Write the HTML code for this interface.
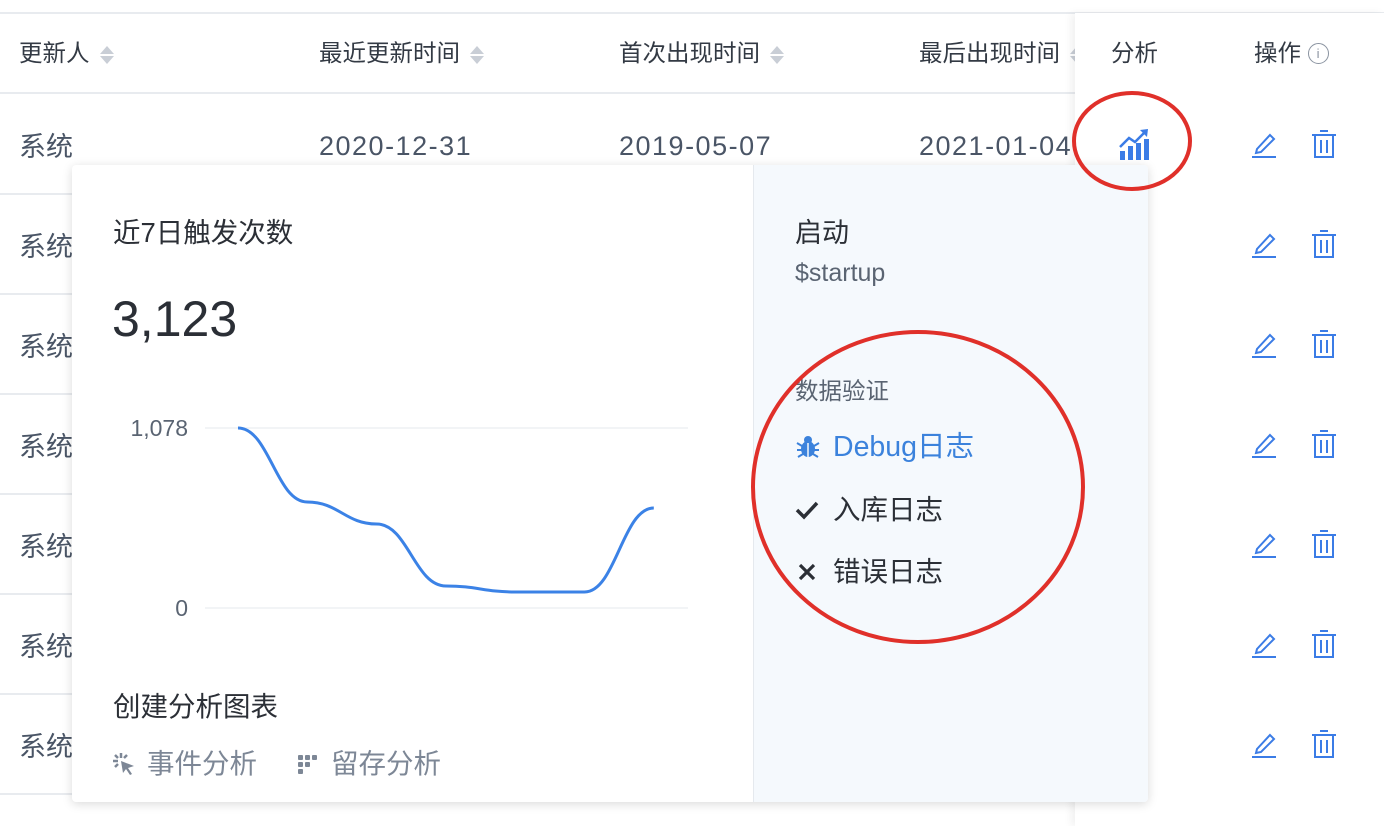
<!DOCTYPE html>
<html><head><meta charset="utf-8">
<style>
body{margin:0;width:1384px;height:826px;background:#fff;position:relative;overflow:hidden;font-family:"Liberation Sans","Noto Sans CJK SC",sans-serif;color:#4a5566}
.a{position:absolute;white-space:nowrap}
.hl{position:absolute;left:0;width:1384px;height:2px;background:#e8ebef}
.th{font-size:23.5px;color:#333a44;top:34px}
.sort{display:inline-block;vertical-align:middle;margin-left:10px;width:14px;height:22px;position:relative}
.sort:before{content:"";position:absolute;left:0;top:2px;border-left:7px solid transparent;border-right:7px solid transparent;border-bottom:8px solid #c9ced6}
.sort:after{content:"";position:absolute;left:0;top:12px;border-left:7px solid transparent;border-right:7px solid transparent;border-top:8px solid #c9ced6}
.td{font-size:27px;color:#4a5566}
.dt{font-size:27px;letter-spacing:1.5px}
</style></head><body>
<div class="hl" style="top:12px"></div>
<div class="hl" style="top:92px"></div>
<div class="a th" style="left:19px">更新人<span class="sort"></span></div>
<div class="a th" style="left:319px">最近更新时间<span class="sort"></span></div>
<div class="a th" style="left:619px">首次出现时间<span class="sort"></span></div>
<div class="a th" style="left:919px">最后出现时间<span class="sort"></span></div>
<div id="rows"></div>
<div class="a" style="left:1075px;top:13px;width:309px;height:813px;background:#fff;box-shadow:-4px 0 8px rgba(0,0,0,0.06)"></div>
<div class="a th" style="left:1111px">分析</div>
<div class="a th" style="left:1254px">操作 <span style="display:inline-block;width:19px;height:19px;border:1.5px solid #8a93a0;border-radius:50%;font-size:13px;text-align:center;line-height:19px;color:#8a93a0;vertical-align:3px">i</span></div>
<div id="rrows"></div>
<svg class="a" style="left:1118px;top:127px" width="32" height="34" viewBox="0 0 32 34"><g fill="#3b7ce6"><rect x="2" y="24" width="5" height="9"/><rect x="10" y="19" width="5" height="14"/><rect x="18" y="16" width="5" height="17"/><rect x="26" y="12" width="5" height="21"/></g><path d="M2 20 L11 11 L17 15 L27 5" stroke="#3b7ce6" stroke-width="2.5" fill="none"/><path d="M22 3 L30 2 L29 10 Z" fill="#3b7ce6"/></svg>
<div class="a" style="left:72px;top:165px;width:1076px;height:637px;background:#fff;border-radius:4px;box-shadow:0 2px 10px rgba(0,0,0,0.15);overflow:hidden">
  <div class="a" style="left:681px;top:0;width:395px;height:637px;background:#f5f9fd;border-left:1px solid #e5e9ee"></div>
</div>
<div class="a" style="left:113px;top:210px;font-size:27.5px;color:#2b2f36">近7日触发次数</div>
<div class="a" style="left:112px;top:290px;font-size:50px;color:#2b2f36">3,123</div>
<svg class="a" id="chart" style="left:100px;top:400px" width="600" height="230"></svg>
<div class="a" style="left:113px;top:684px;font-size:27.5px;color:#2b2f36">创建分析图表</div>
<div class="a" style="left:112px;top:741px;font-size:27.5px;color:#7d8796"><svg width="24" height="24" viewBox="0 0 24 24" style="vertical-align:-3px;margin-right:11px"><g stroke="#7d8796" stroke-width="2.5"><line x1="9" y1="1" x2="9" y2="6"/><line x1="1" y1="9" x2="6" y2="9"/><line x1="3" y1="3" x2="6" y2="6"/><line x1="15" y1="3" x2="12" y2="6"/><line x1="3" y1="15" x2="6" y2="12"/></g><path d="M9 9 L22 14 L16 16 L20 22 L18 23 L14 17 L11 21 Z" fill="#7d8796"/></svg>事件分析</div>
<div class="a" style="left:297px;top:741px;font-size:27.5px;color:#7d8796"><svg width="22" height="22" viewBox="0 0 22 22" style="vertical-align:-2px;margin-right:12px"><g fill="#7d8796"><rect x="1" y="2" width="5" height="5" rx="1"/><rect x="8" y="2" width="5" height="5" rx="1"/><rect x="15" y="2" width="5" height="5" rx="1"/><rect x="1" y="9" width="5" height="5" rx="1"/><rect x="8" y="9" width="5" height="5" rx="1"/><rect x="1" y="16" width="5" height="5" rx="1"/></g></svg>留存分析</div>
<div class="a" style="left:795px;top:211px;font-size:27px;color:#2b2f36">启动</div>
<div class="a" style="left:795px;top:259px;font-size:25px;color:#5a6472">$startup</div>
<div class="a" style="left:795px;top:372px;font-size:23.5px;color:#5a6472">数据验证</div>
<div class="a" style="left:795px;top:424px;font-size:28.5px;color:#3b82dc"><svg width="26" height="24" viewBox="0 0 26 24" style="vertical-align:-3px;margin-right:12px"><ellipse cx="13" cy="14" rx="7" ry="8" fill="#3b82dc"/><circle cx="13" cy="5" r="4" fill="#3b82dc"/><path d="M2 8l5 3M2 15h5M3 22l5-3M24 8l-5 3M24 15h-5M23 22l-5-3" stroke="#3b82dc" stroke-width="2"/><path d="M13 8v14" stroke="#f5f9fd" stroke-width="1.5"/></svg>Debug日志</div>
<div class="a" style="left:795px;top:487px;font-size:27.5px;color:#2b2f36"><svg width="24" height="20" viewBox="0 0 24 20" style="vertical-align:-1px;margin-right:14px"><path d="M2 10 L9 17 L22 3" stroke="#2b2f36" stroke-width="3.5" fill="none"/></svg>入库日志</div>
<div class="a" style="left:797px;top:549px;font-size:27.5px;color:#2b2f36"><svg width="20" height="20" viewBox="0 0 20 20" style="vertical-align:-1px;margin-right:16px"><path d="M3 3 L17 17 M17 3 L3 17" stroke="#2b2f36" stroke-width="3.2"/></svg>错误日志</div>
<svg class="a" style="left:0;top:0" width="1384" height="826"><ellipse cx="1132" cy="141" rx="58" ry="48" fill="none" stroke="#e0302a" stroke-width="4"/><ellipse cx="918" cy="487" rx="165" ry="155" fill="none" stroke="#e0302a" stroke-width="4"/></svg>
<script>
const categories=["D1","D2","D3","D4","D5","D6","D7"];
const values=[1078,635,503,132,96,96,599];
const yTicks=[0,1078];
const yTickLabels=["0","1,078"];
const svg=document.getElementById('chart');
const NS="http://www.w3.org/2000/svg";
const x0=138,step=69.3,yb=208,yt=28,ymax=1078;
const xs=i=>x0+i*step;
const ys=v=>yb-(v/ymax)*(yb-yt);
yTicks.forEach((t,i)=>{
 const l=document.createElementNS(NS,'line');
 
 
 l.setAttribute('x1',105);l.setAttribute('x2',588);l.setAttribute('y1',ys(t));l.setAttribute('y2',ys(t));
 l.setAttribute('stroke','#eef0f3');l.setAttribute('stroke-width','1.5');svg.appendChild(l);
 const tx=document.createElementNS(NS,'text');
 
 
 tx.setAttribute('x',88);tx.setAttribute('y',ys(t)+8);tx.setAttribute('text-anchor','end');
 tx.setAttribute('font-size','23');tx.setAttribute('fill','#5a6472');tx.textContent=yTickLabels[i];svg.appendChild(tx);
});
const pts=values.map((v,i)=>[xs(i),ys(v)]);
let d=`M${pts[0][0]},${pts[0][1]}`;
for(let i=0;i<pts.length-1;i++){
 const p1=pts[i],p2=pts[i+1],dx=(p2[0]-p1[0])*0.45;
 d+=` C${p1[0]+dx},${p1[1]} ${p2[0]-dx},${p2[1]} ${p2[0]},${p2[1]}`;
}
const path=document.createElementNS(NS,'path');


path.setAttribute('d',d);path.setAttribute('fill','none');path.setAttribute('stroke','#3b82e6');path.setAttribute('stroke-width','3');
svg.appendChild(path);
const rows=document.getElementById('rows'),rr=document.getElementById('rrows');
const dates=[["2020-12-31","2019-05-07","2021-01-04"]];
for(let r=0;r<7;r++){
 const top=93+r*100;
 const ln=document.createElement('div');ln.className='hl';ln.style.top=(top+100)+'px';
 
 
 rows.appendChild(ln);
 const c=document.createElement('div');c.className='a td';c.style.left='19px';c.style.top=(top+32)+'px';c.textContent='系统';
 
 
 rows.appendChild(c);
 if(r===0){[319,619,919].forEach((x,k)=>{const e=document.createElement('div');e.className='a td dt';e.style.left=x+'px';e.style.top=(top+38)+'px';e.textContent=dates[0][k];
  
  
  rows.appendChild(e);});}
 const ed=document.createElementNS(NS,'svg');ed.setAttribute('class','a');ed.setAttribute('width','28');ed.setAttribute('height','28');ed.style.left='1251px';ed.style.top=(top+37)+'px';
 
 
 ed.innerHTML='<path d="M6 19 L19 5 L23 9 L10 22 L5 23 Z" fill="none" stroke="#3b7ce6" stroke-width="2"/><line x1="1" y1="27" x2="25" y2="27" stroke="#3b7ce6" stroke-width="2"/>';
 rr.appendChild(ed);
 const de=document.createElementNS(NS,'svg');de.setAttribute('class','a');de.setAttribute('width','26');de.setAttribute('height','28');de.style.left='1311px';de.style.top=(top+37)+'px';
 
 
 de.innerHTML='<g stroke="#3b7ce6" stroke-width="2" fill="none"><line x1="1" y1="5" x2="25" y2="5"/><line x1="9" y1="1" x2="17" y2="1"/><path d="M4 6 V27 H22 V6"/><line x1="10" y1="10" x2="10" y2="23"/><line x1="16" y1="10" x2="16" y2="23"/></g>';
 rr.appendChild(de);
}
</script>
</body></html>
